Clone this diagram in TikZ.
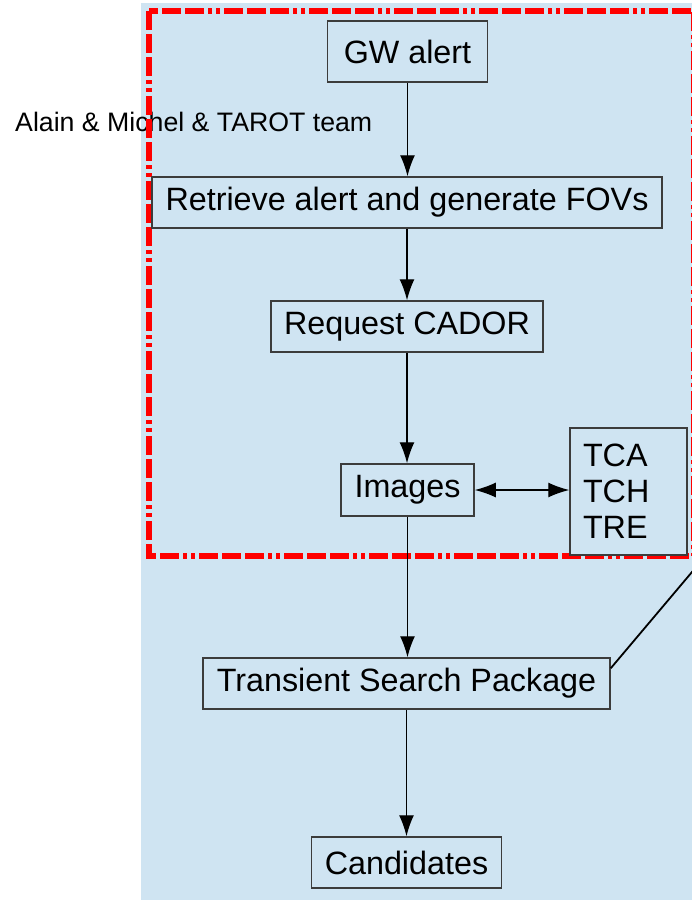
\documentclass[tikz,border=0pt]{standalone}
\usepackage{fontspec}
\setmainfont{Liberation Sans}
\usetikzlibrary{arrows.meta}
\definecolor{bgblue}{RGB}{207,228,242}
\definecolor{boxgray}{RGB}{60,60,60}
\tikzset{
  stepbox/.style={draw=boxgray, line width=1.5pt, fill=bgblue, inner sep=0pt,
    font=\fontsize{32.3}{36}\selectfont, anchor=center},
  arr/.style={line width=1.3pt, -{Latex[length=21pt,width=15pt]}},
  darr/.style={line width=1.3pt, {Latex[length=21pt,width=15pt]}-{Latex[length=21pt,width=15pt]}},
  redframe/.style={draw=red, line width=5.5pt,
    dash pattern=on 19pt off 4pt on 19pt off 4pt on 19pt off 4pt on 4pt off 4pt on 4pt off 4pt}
}
\begin{document}
\begin{tikzpicture}[x=1pt,y=-1pt]
\useasboundingbox (0,0) rectangle (692,900);
\clip (0,0) rectangle (692,900);
\fill[bgblue] (141,3) rectangle (700,905);
\node[font=\fontsize{26.7}{30}\selectfont, anchor=west, inner sep=0pt] (team) at (15,122) {Alain \& Michel \& TAROT team};
\draw[redframe] (149,11) rectangle (694,556);

\node[stepbox, minimum width=160pt, minimum height=61pt] (gw) at (407.5,51.5) {GW alert};
\node[stepbox, minimum width=510pt, minimum height=51pt] (ret) at (407,202.5) {Retrieve alert and generate FOVs};
\node[stepbox, minimum width=272pt, minimum height=51pt] (req) at (407,326.5) {Request CADOR};
\node[stepbox, minimum width=133pt, minimum height=52pt] (img) at (407.5,490) {Images};
\node[stepbox, minimum height=127pt, text width=91pt, inner xsep=13pt, align=left] (tca) at (628.5,491.5) {TCA\\TCH\\TRE};
\node[stepbox, minimum width=407pt, minimum height=51pt] (tsp) at (406.5,683.5) {Transient Search Package};
\node[stepbox, minimum width=190pt, minimum height=51pt] (cand) at (406.5,862.5) {Candidates};

\coordinate (lineend) at (700,562.5);

\draw[arr] (gw.south) -- (gw.south |- ret.north);
\draw[arr] (ret.south) -- (ret.south |- req.north);
\draw[arr] (req.south) -- (req.south |- img.north);
\draw[arr] (img.south) -- (img.south |- tsp.north);
\draw[arr] (tsp.south) -- (tsp.south |- cand.north);
\draw[darr] (img.east) -- (img.east -| tca.west);
\draw[line width=1.8pt] ([yshift=-11pt]tsp.north east) -- (lineend);
\end{tikzpicture}
\end{document}
